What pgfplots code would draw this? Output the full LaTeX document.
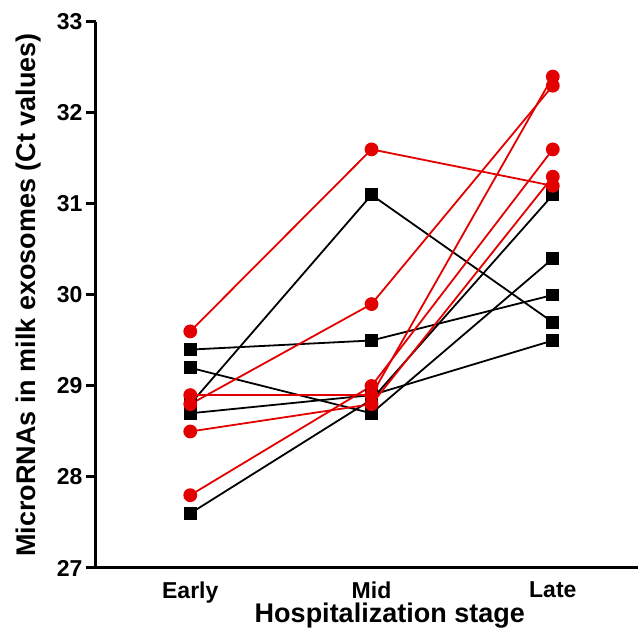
\documentclass[border=0pt]{standalone}
\usepackage{pgfplots}
\pgfplotsset{compat=1.18}
\usepackage{fontspec}
\setmainfont{Liberation Sans}
\definecolor{myred}{RGB}{226,0,0}
\begin{document}
\begin{tikzpicture}
\begin{axis}[
  name=ax, scale only axis, width=542pt, height=546pt,
  xmin=-0.52, xmax=2.47, ymin=27, ymax=33,
  axis x line=bottom, axis y line=left,
  axis line style={line width=3pt,-},
  xtick={0,1,2}, xticklabels={Early,Mid,Late},
  ytick={27,28,...,33},
  x tick style={draw=none}, y tick style={line width=3pt, black},
  tick align=outside, major tick length=10pt,
  ticklabel style={font=\fontsize{23}{27}\selectfont\bfseries},
  /pgf/number format/assume math mode=true,
  x tick label style={yshift=0pt},
  xlabel={Hospitalization stage},
  ylabel={MicroRNAs in milk exosomes (Ct values)},
  label style={font=\fontsize{27}{32}\selectfont\bfseries},
  xlabel style={at={(axis description cs:0.542,0)}, anchor=center, yshift=-48pt},
  ylabel style={at={(axis description cs:-0.125,0.5)}, anchor=center},
  clip=false,
]
\pgfplotsset{
  blk/.style={black, line width=1.8pt, mark=square*, mark size=5.5pt, mark options={solid, fill=black}},
  rd/.style={myred, line width=1.8pt, mark=*, mark size=6pt, mark options={solid, fill=myred}},
}
\addplot[blk] coordinates {(0,28.8) (1,31.1) (2,29.7)};
\addplot[blk] coordinates {(0,29.4) (1,29.5) (2,30.0)};
\addplot[blk] coordinates {(0,29.2) (1,28.7) (2,30.4)};
\addplot[blk] coordinates {(0,28.7) (1,28.9) (2,29.5)};
\addplot[blk] coordinates {(0,27.6) (1,28.85) (2,31.1)};
\addplot[rd] coordinates {(0,29.6) (1,31.6) (2,31.2)};
\addplot[rd] coordinates {(0,28.8) (1,29.9) (2,32.3)};
\addplot[rd] coordinates {(0,28.9) (1,28.9) (2,32.4)};
\addplot[rd] coordinates {(0,28.5) (1,28.8) (2,31.3)};
\addplot[rd] coordinates {(0,27.8) (1,29.0) (2,31.6)};
\end{axis}
\pgfresetboundingbox
\path ([xshift=-96pt,yshift=-67pt]ax.south west) rectangle ([yshift=22pt]ax.north east);
\end{tikzpicture}
\end{document}
